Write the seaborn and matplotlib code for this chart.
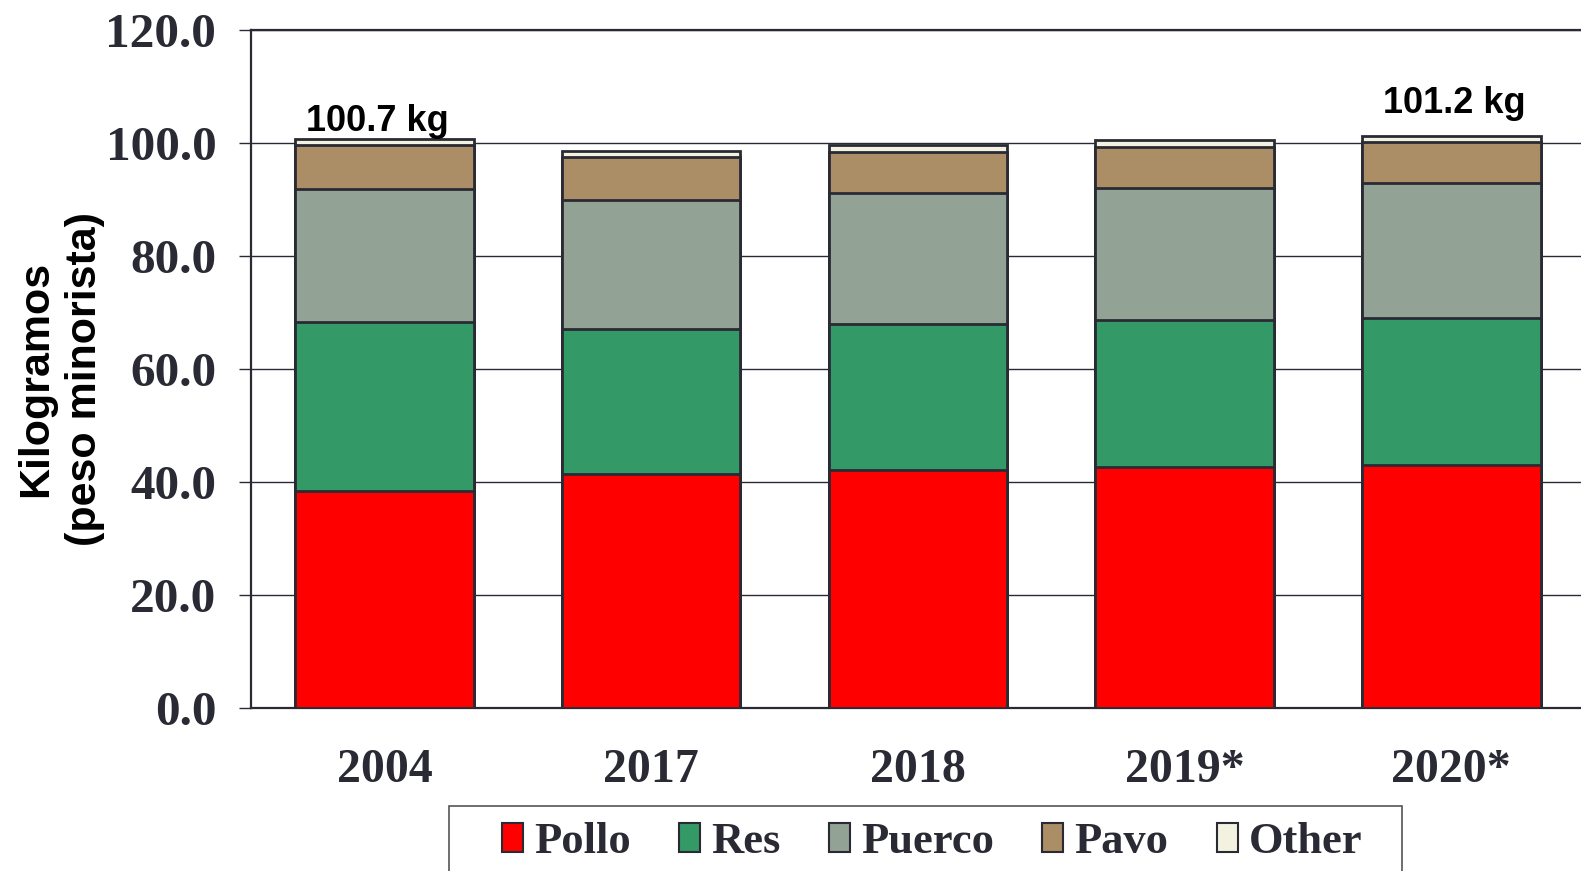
import matplotlib
matplotlib.use("Agg")
import matplotlib.pyplot as plt
from matplotlib.patches import Patch, Rectangle
from matplotlib.ticker import FixedLocator
import numpy as np
import pandas as pd
import seaborn as sns

# data (kg, retail weight)
years = ["2004", "2017", "2018", "2019*", "2020*"]
pollo = [38.4, 41.4, 42.1, 42.7, 42.9]
res = [30.0, 25.7, 25.8, 25.9, 26.2]
puerco = [23.4, 22.9, 23.2, 23.5, 23.8]
pavo = [7.8, 7.5, 7.3, 7.2, 7.3]
other = [1.1, 1.1, 1.2, 1.2, 1.0]
series_names = ["Pollo", "Res", "Puerco", "Pavo", "Other"]
total_labels = {"2004": "100.7 kg", "2020*": "101.2 kg"}

colors = ["#ff0000", "#339966", "#92a295", "#ab8d66", "#f3f1df"]
edge = "#2a2a35"
serif = ["Liberation Serif", "DejaVu Serif"]

sns.set_style("white")
plt.rcParams["font.family"] = ["Liberation Sans", "DejaVu Sans"]

fig = plt.figure(figsize=(15.81, 8.71), dpi=100)
ax = fig.add_axes([0.1588, 0.1875, 0.8435, 0.7778])

df = pd.DataFrame({"year": years, "Pollo": pollo, "Res": res,
                   "Puerco": puerco, "Pavo": pavo, "Other": other})
cum = df[series_names].cumsum(axis=1)

# stacked bars: draw the tallest cumulative first, then overlay
for name, col in reversed(list(zip(series_names, colors))):
    sns.barplot(x=df["year"], y=cum[name], order=years, color=col,
                width=0.67, edgecolor=edge, linewidth=2.0, saturation=1,
                ax=ax, zorder=3)

ax.set_ylim(0, 120)
ax.set_xlim(-0.5, 4.5)
ax.set_yticks(np.arange(0, 121, 20))
ax.set_yticklabels([f"{v:.1f}" for v in np.arange(0, 121, 20)],
                   fontfamily=serif, fontweight="bold", fontsize=35.5, color="#2a2a35")
ax.set_xticks(range(len(years)))
ax.set_xticklabels(years, fontfamily=serif, fontweight="bold", fontsize=34.5, color="#2a2a35")
ax.xaxis.set_minor_locator(FixedLocator(np.arange(-0.5, 5, 1)))
ax.tick_params(axis="x", which="major", length=0, pad=29)
ax.tick_params(axis="x", which="minor", length=9, width=1, color=edge, direction="out")
ax.tick_params(axis="y", length=9, width=1, color=edge, direction="out", pad=16, left=True)

ax.yaxis.grid(True, color=edge, linewidth=1)
ax.set_axisbelow(True)
for side in ["left", "bottom", "top"]:
    ax.spines[side].set_color(edge)
    ax.spines[side].set_linewidth(1.6)
ax.spines["right"].set_visible(False)

ax.set_xlabel("")
ax.set_ylabel("Kilogramos\n(peso minorista)", fontsize=31, fontweight="bold",
              family=["Liberation Sans Narrow", "Liberation Sans"],
              linespacing=1.3, va="center", color="black")
ax.yaxis.set_label_coords(-0.143, 0.485)

# total labels above the first and last bars
offsets = {"2004": (-5, 0), "2020*": (2, 11)}
totals = cum["Other"].tolist()
for i, yr in enumerate(years):
    if yr in total_labels:
        ax.annotate(total_labels[yr], xy=(i, totals[i]), xytext=offsets[yr],
                    textcoords="offset points", ha="center", va="bottom",
                    fontsize=26, fontweight="bold", color="black")

# legend box, cut by the bottom edge as in the source
fig.patches.append(Rectangle((0.2838, -0.05), 0.6027, 0.1241, transform=fig.transFigure,
                             facecolor="white", edgecolor="#555555", linewidth=1.2))
handles = [Patch(facecolor=c, edgecolor=edge, linewidth=1.5, label=n)
           for n, c in zip(series_names, colors)]
leg = fig.legend(handles=handles, loc="center", bbox_to_anchor=(0.5896, 0.033),
                 ncol=5, frameon=False, handlelength=0.48, handleheight=0.65,
                 handletextpad=0.25, columnspacing=1.08, borderpad=0, borderaxespad=0,
                 prop={"family": serif, "weight": "bold", "size": 32})
for t in leg.get_texts():
    t.set_color("#2a2a35")

fig.savefig("out.png", dpi=100)
